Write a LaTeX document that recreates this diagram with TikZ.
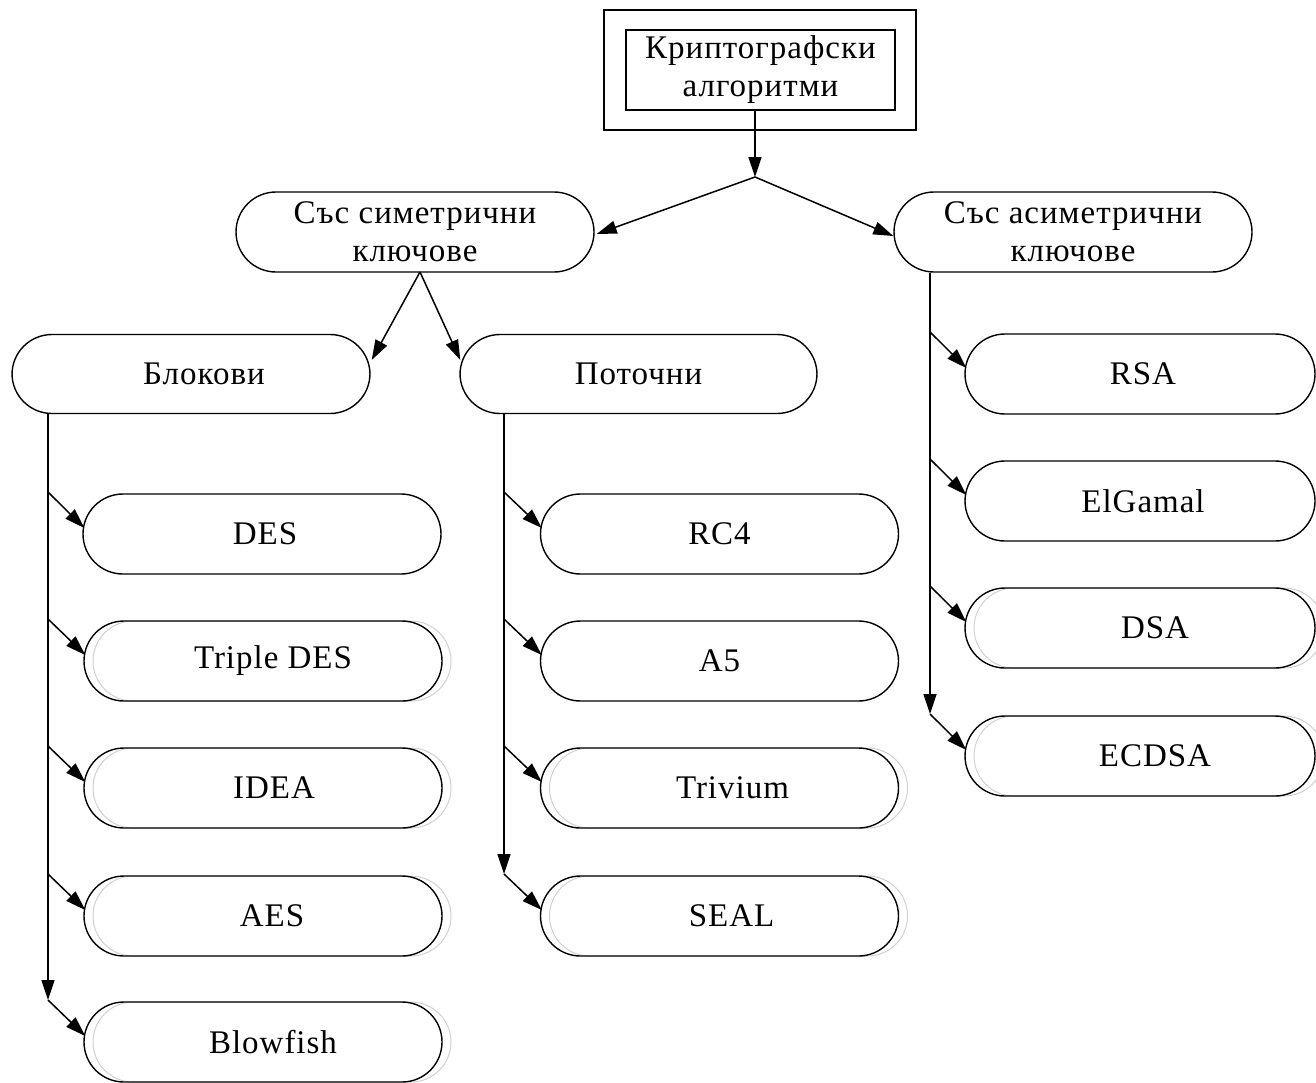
\documentclass[tikz,border=0pt]{standalone}
\usepackage{fontspec}
\setmainfont[LetterSpace=3]{Liberation Serif}
\usetikzlibrary{arrows.meta,calc}
\begin{document}
\begin{tikzpicture}[x=1pt,y=-1pt,
  every node/.style={font=\fontsize{33}{38}\selectfont},
  pill/.style={draw, line width=1.4pt, rounded corners=40pt, minimum width=358pt, minimum height=80pt, inner sep=0pt, align=center},
  apill/.style={pill, minimum width=350pt},
  ghost/.style={draw=black!18, line width=1pt, rounded corners=40pt, minimum width=358pt, minimum height=80pt, inner sep=0pt},
  aghost/.style={ghost, minimum width=350pt},
  boxnode/.style={draw, line width=1.4pt, inner sep=0pt, align=center},
  conn/.style={line width=1.5pt, -{Triangle[length=20pt,width=13pt]}},
  line/.style={line width=1.5pt}
]
\useasboundingbox (0,0) rectangle (1316,1082);
\clip (0,0) rectangle (1316,1082);

% top
\node[boxnode, minimum width=312pt, minimum height=120pt] (outer) at (760,70) {};
\node[boxnode, minimum width=269pt, minimum height=80pt] (top) at (760.5,70) {Криптографски\\алгоритми};
\coordinate (j) at (755,177);
\draw[conn] (top.south -| j) -- (j);

% level 1
\node[pill] (sym) at (415,232) {Със симетрични\\ключове};
\node[pill] (asym) at (1073,232) {Със асиметрични\\ключове};
\draw[conn] (j) -- ($(sym.east)+(2,2)$);
\draw[conn] (j) -- ($(asym.west)+(0,4)$);

% level 2
\node[pill, minimum width=358pt, minimum height=79pt] (blok) at (191,374) {\hspace*{26pt}Блокови};
\node[pill, minimum width=357pt, minimum height=79pt] (pot) at (638.5,374) {Поточни};
\coordinate (s1) at (420,272);
\draw[conn] (s1) -- ($(blok.east)+(1,-14)$);
\draw[conn] (s1) -- ($(pot.west)+(1,-14)$);

% ghosts
\node[ghost] (gtdes) at (272,661) {};
\node[ghost] (gidea) at (272,788) {};
\node[ghost] (gaes) at (272,916) {};
\node[ghost] (gblow) at (272,1042) {};
\node[ghost] (gtriv) at (728.5,788) {};
\node[ghost] (gseal) at (728.5,916) {};
\node[aghost] (gdsa) at (1149,628) {};
\node[aghost] (gecdsa) at (1149,756) {};

% block ciphers
\node[pill] (des) at (262,534) {\hspace*{6pt}DES};
\node[pill] (tdes) at (263,661) {\hspace*{20pt}Triple DES};
\node[pill] (idea) at (263,788) {\hspace*{22pt}IDEA};
\node[pill] (aes) at (263,916) {\hspace*{18pt}AES};
\node[pill] (blow) at (263,1042) {\hspace*{20pt}Blowfish};
\coordinate (b1) at (48,492);
\coordinate (b2) at (48,619);
\coordinate (b3) at (48,746);
\coordinate (b4) at (48,874);
\coordinate (b5) at (48,1000);
\draw[conn] (blok.south -| b5) -- (b5);
\draw[conn] (b1) -- ($(des.west)+(2,-6)$);
\draw[conn] (b2) -- ($(tdes.west)+(2,-6)$);
\draw[conn] (b3) -- ($(idea.west)+(2,-6)$);
\draw[conn] (b4) -- ($(aes.west)+(2,-6)$);
\draw[conn] (b5) -- ($(blow.west)+(2,-6)$);

% stream ciphers
\node[pill] (rc4) at (719.5,534) {RC4};
\node[pill] (a5) at (719.5,661) {A5};
\node[pill] (triv) at (719.5,788) {\hspace*{26pt}Trivium};
\node[pill] (seal) at (719.5,916) {\hspace*{24pt}SEAL};
\coordinate (p1) at (504,492);
\coordinate (p2) at (504,619);
\coordinate (p3) at (504,746);
\coordinate (p4) at (504,874);
\draw[conn] (pot.south -| p4) -- (p4);
\draw[conn] (p1) -- ($(rc4.west)+(2,-6)$);
\draw[conn] (p2) -- ($(a5.west)+(2,-6)$);
\draw[conn] (p3) -- ($(triv.west)+(2,-6)$);
\draw[conn] (p4) -- ($(seal.west)+(2,-6)$);

% asymmetric
\node[apill] (rsa) at (1140,374) {\hspace*{6pt}RSA};
\node[apill] (elg) at (1140,501) {\hspace*{6pt}ElGamal};
\node[apill] (dsa) at (1140,628) {\hspace*{30pt}DSA};
\node[apill] (ecdsa) at (1140,756) {\hspace*{30pt}ECDSA};
\coordinate (r1) at (930,332);
\coordinate (r2) at (930,459);
\coordinate (r3) at (930,586);
\coordinate (r4) at (930,714);
\draw[conn] (asym.south -| r4) -- (r4);
\draw[conn] (r1) -- ($(rsa.west)+(2,-6)$);
\draw[conn] (r2) -- ($(elg.west)+(2,-6)$);
\draw[conn] (r3) -- ($(dsa.west)+(2,-6)$);
\draw[conn] (r4) -- ($(ecdsa.west)+(2,-6)$);
\end{tikzpicture}
\end{document}
